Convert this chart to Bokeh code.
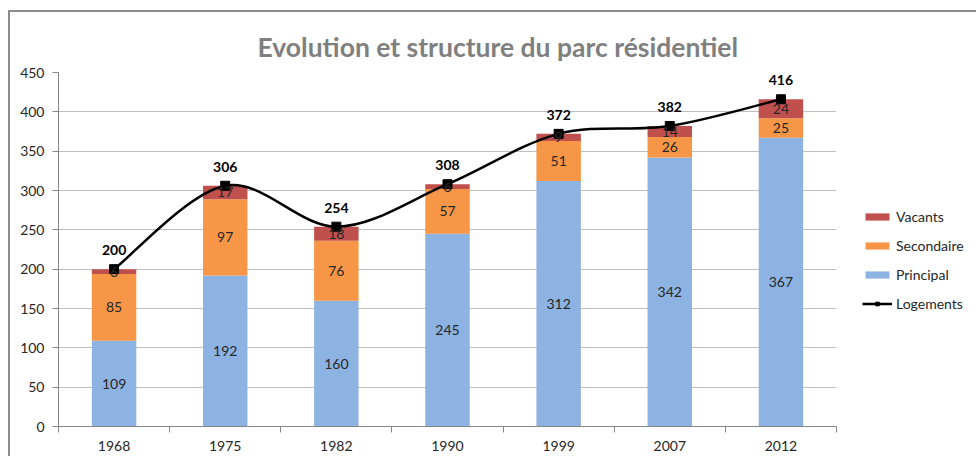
from bokeh.plotting import figure
from bokeh.models import (Range1d, FixedTicker, ColumnDataSource, Legend, LegendItem, LabelSet)
from bokeh.core.properties import value
from bokeh.embed import file_html
from bokeh.resources import INLINE

years = ["1968", "1975", "1982", "1990", "1999", "2007", "2012"]
principal = [109, 192, 160, 245, 312, 342, 367]
secondaire = [85, 97, 76, 57, 51, 26, 25]
vacants = [6, 17, 18, 6, 9, 14, 24]
logements = [200, 306, 254, 308, 372, 382, 416]
y_ticks = [0, 50, 100, 150, 200, 250, 300, 350, 400, 450]

C_PRI = "#8db3e2"
C_SEC = "#f79646"
C_VAC = "#c0504d"
FONT = "Lato"
FS = "14px"

n = len(years)
xs = [i + 0.5 for i in range(n)]
b1 = [p + s for p, s in zip(principal, secondaire)]
b2 = [a + v for a, v in zip(b1, vacants)]

src = ColumnDataSource(dict(
    x=xs, pri=principal, sec=secondaire, vac=vacants, b1=b1, b2=b2, tot=logements,
    pri_mid=[p / 2 for p in principal],
    sec_mid=[p + s / 2 for p, s in zip(principal, secondaire)],
    vac_mid=[a + v / 2 for a, v in zip(b1, vacants)],
    pri_t=[str(v) for v in principal], sec_t=[str(v) for v in secondaire],
    vac_t=[str(v) for v in vacants], tot_t=[str(v) for v in logements],
))

p = figure(frame_width=778, frame_height=354, output_backend="svg", toolbar_location=None,
           x_range=Range1d(0, n), y_range=Range1d(0, 450),
           min_border_left=48, min_border_right=130, min_border_top=60, min_border_bottom=30)
p.styles = {"border-left": "2px solid #8c8c8c", "border-top": "2px solid #8c8c8c",
            "margin-left": "8px", "margin-top": "10px"}

p.outline_line_color = None
p.background_fill_color = "white"
p.border_fill_color = "white"
p.title.text = "Evolution et structure du parc résidentiel"
p.title.align = "left"
p.title.offset = 199
p.title.standoff = 20
p.title.text_font = FONT
p.title.text_font_size = "26.5px"
p.title.text_font_style = "bold"
p.title.text_color = "#7f7f7f"

r_pri = p.vbar(x="x", bottom=0, top="pri", width=0.4, source=src, fill_color=C_PRI, line_color=None)
r_sec = p.vbar(x="x", bottom="pri", top="b1", width=0.4, source=src, fill_color=C_SEC, line_color=None)
r_vac = p.vbar(x="x", bottom="b1", top="b2", width=0.4, source=src, fill_color=C_VAC, line_color=None)

# smoothed line (Excel-like cardinal spline) drawn with Bezier segments
x0s, y0s, x1s, y1s, cx0s, cy0s, cx1s, cy1s = [], [], [], [], [], [], [], []
for i in range(n - 1):
    pm = (xs[max(i - 1, 0)], logements[max(i - 1, 0)])
    pa = (xs[i], logements[i])
    pb = (xs[i + 1], logements[i + 1])
    pn = (xs[min(i + 2, n - 1)], logements[min(i + 2, n - 1)])
    x0s.append(pa[0]); y0s.append(pa[1]); x1s.append(pb[0]); y1s.append(pb[1])
    cx0s.append(pa[0] + (pb[0] - pm[0]) / 6); cy0s.append(pa[1] + (pb[1] - pm[1]) / 6)
    cx1s.append(pb[0] - (pn[0] - pa[0]) / 6); cy1s.append(pb[1] - (pn[1] - pa[1]) / 6)
r_bez = p.bezier(x0=x0s, y0=y0s, x1=x1s, y1=y1s, cx0=cx0s, cy0=cy0s, cx1=cx1s, cy1=cy1s,
                 line_color="black", line_width=2.5)
r_mark = p.scatter(x="x", y="tot", source=src, marker="square", size=9, fill_color="black", line_color="black")

lab_kw = dict(text_font=value(FONT), text_font_size=FS, text_color="#262626",
              text_align="center", text_baseline="middle")
p.add_layout(LabelSet(x="x", y="pri_mid", text="pri_t", source=src, **lab_kw))
p.add_layout(LabelSet(x="x", y="sec_mid", text="sec_t", source=src, **lab_kw))
p.add_layout(LabelSet(x="x", y="vac_mid", text="vac_t", source=src, **lab_kw))
p.add_layout(LabelSet(x="x", y="tot", text="tot_t", source=src, y_offset=19,
                      text_font=value(FONT), text_font_size=FS, text_font_style="bold",
                      text_color="black", text_align="center", text_baseline="middle"))

# axes
xa = p.xaxis[0]
xa.ticker = FixedTicker(ticks=xs, minor_ticks=list(range(n + 1)))
xa.major_label_overrides = {x: y for x, y in zip(xs, years)}
xa.major_tick_out = 0
xa.major_tick_in = 0
xa.minor_tick_out = 6
xa.minor_tick_in = 0
xa.minor_tick_line_color = "#868686"
xa.axis_line_color = "#868686"
xa.major_label_standoff = 8
xa.major_label_text_font = FONT
xa.major_label_text_font_size = FS
xa.major_label_text_color = "#262626"

ya = p.yaxis[0]
ya.ticker = FixedTicker(ticks=y_ticks)
ya.major_tick_out = 6
ya.major_tick_in = 0
ya.minor_tick_out = 0
ya.minor_tick_in = 0
ya.major_tick_line_color = "#868686"
ya.axis_line_color = "#868686"
ya.major_label_standoff = 8
ya.major_label_text_font = FONT
ya.major_label_text_font_size = FS
ya.major_label_text_color = "#262626"

p.xgrid.grid_line_color = None
p.ygrid.grid_line_color = "#bfbfbf"
p.ygrid.grid_line_width = 1

legend = Legend(items=[
    LegendItem(label="Vacants", renderers=[r_vac]),
    LegendItem(label="Secondaire", renderers=[r_sec]),
    LegendItem(label="Principal", renderers=[r_pri]),
    LegendItem(label="Logements", renderers=[r_bez, r_mark]),
], location=(26, 113), orientation="vertical", glyph_width=30, glyph_height=9,
    label_height=20, spacing=9, padding=0, margin=0, label_standoff=4,
    label_text_font=FONT, label_text_font_size=FS, label_text_color="#262626",
    border_line_color=None, background_fill_alpha=0)
p.add_layout(legend, "right")

open("out.html", "w").write(file_html(p, INLINE))
